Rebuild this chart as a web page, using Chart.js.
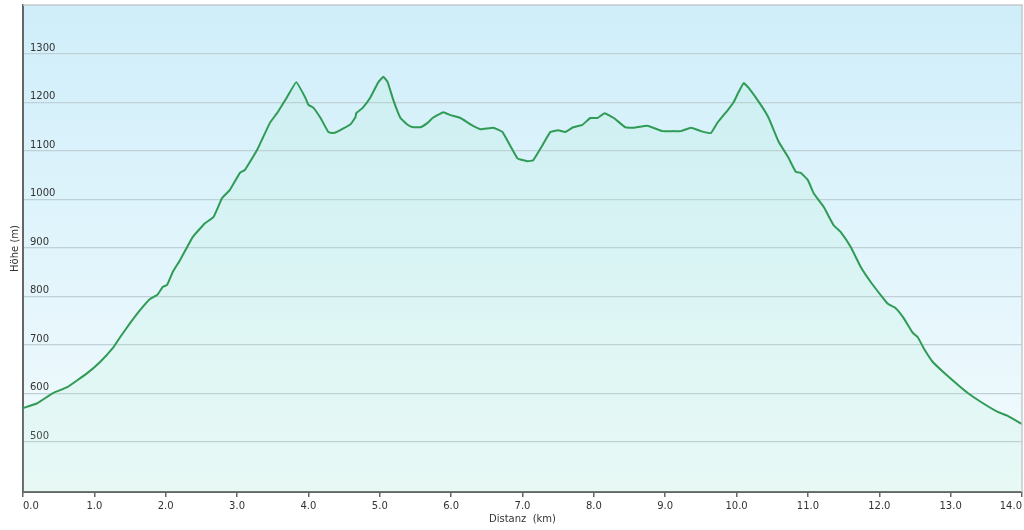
<!DOCTYPE html>
<html>
<head>
<meta charset="utf-8">
<script src="https://cdn.jsdelivr.net/npm/chart.js@4.4.1/dist/chart.umd.min.js"></script>
<style>
  html, body { margin: 0; padding: 0; background: #ffffff; }
  #wrap { width: 1024px; height: 530px; position: relative; }
</style>
</head>
<body>
<div id="wrap"><canvas id="c"></canvas></div>
<script>
const distanceKm = [0.00,0.20,0.42,0.62,0.90,1.08,1.26,1.36,1.50,1.64,1.78,1.88,1.96,2.02,2.10,2.20,2.38,2.55,2.67,2.79,2.90,3.04,3.11,3.28,3.46,3.56,3.70,3.83,3.96,4.00,4.07,4.17,4.28,4.35,4.42,4.59,4.66,4.67,4.76,4.87,4.98,5.05,5.11,5.19,5.29,5.39,5.47,5.57,5.67,5.74,5.89,5.99,6.13,6.27,6.41,6.59,6.72,6.93,7.07,7.15,7.28,7.39,7.50,7.60,7.71,7.84,7.95,8.05,8.15,8.28,8.44,8.56,8.75,8.96,9.12,9.22,9.36,9.50,9.64,9.73,9.88,9.96,10.03,10.10,10.17,10.34,10.45,10.59,10.72,10.83,10.90,11.00,11.08,11.22,11.36,11.46,11.60,11.74,11.88,12.02,12.12,12.23,12.34,12.47,12.54,12.62,12.75,12.90,13.10,13.24,13.42,13.66,13.80,14.00];
const elevationM = [570,580,601,613,642,665,694,716,745,772,795,803,820,824,851,875,923,951,964,1003,1020,1055,1061,1102,1158,1178,1211,1242,1209,1195,1189,1168,1139,1137,1141,1155,1170,1178,1189,1211,1242,1253,1242,1205,1168,1154,1149,1149,1158,1168,1180,1174,1168,1155,1145,1148,1139,1085,1079,1081,1112,1139,1143,1139,1149,1154,1168,1168,1178,1168,1149,1148,1152,1141,1141,1141,1148,1141,1137,1158,1185,1201,1222,1240,1230,1195,1168,1119,1088,1057,1055,1040,1013,985,947,933,902,861,830,803,785,776,756,725,716,694,665,644,618,601,583,562,554,537];
const xTickValues = [0,1,2,3,4,5,6,7,8,9,10,11,12,13,14];
const yTickValues = [500,600,700,800,900,1000,1100,1200,1300];
const xTitle = 'Distanz  (km)';
const yTitle = 'Höhe (m)';

const points = distanceKm.map((d, i) => ({ x: d, y: elevationM[i] }));

const bgPlugin = {
  id: 'bg',
  beforeDraw(chart) {
    const { ctx, chartArea: a } = chart;
    const g = ctx.createLinearGradient(0, a.top, 0, a.bottom);
    g.addColorStop(0, '#cfeefa');
    g.addColorStop(1, '#f3fbfd');
    ctx.save();
    ctx.fillStyle = g;
    ctx.fillRect(a.left, a.top, a.right - a.left, a.bottom - a.top);
    ctx.restore();
  },
  afterDraw(chart) {
    const { ctx, chartArea: a } = chart;
    ctx.save();
    ctx.strokeStyle = '#c4c9cc';
    ctx.lineWidth = 1.5;
    ctx.beginPath();
    ctx.moveTo(a.left, a.top);
    ctx.lineTo(a.right, a.top);
    ctx.lineTo(a.right, a.bottom);
    ctx.stroke();
    ctx.restore();
  }
};

new Chart(document.getElementById('c'), {
  type: 'line',
  data: {
    datasets: [{
      data: points,
      borderColor: '#2f9b55',
      borderWidth: 2,
      pointRadius: 0,
      tension: 0.1,
      fill: 'start',
      backgroundColor: 'rgba(160,238,190,0.13)'
    }]
  },
  options: {
    responsive: true,
    maintainAspectRatio: false,
    animation: false,
    layout: { padding: { top: 5, right: 2, left: 0, bottom: 0 } },
    plugins: { legend: { display: false }, tooltip: { enabled: false } },
    scales: {
      x: {
        type: 'linear',
        min: 0, max: 14,
        afterBuildTicks: (s) => { s.ticks = xTickValues.map(v => ({ value: v })); },
        afterFit: (s) => { s.height = 38; s.paddingLeft = 0; s.paddingRight = 0; },
        ticks: {
          align: 'inner',
          color: '#333',
          font: { family: 'DejaVu Sans', size: 10 },
          padding: 3,
          maxRotation: 0,
          autoSkip: false,
          callback: (v) => Number(v).toFixed(1)
        },
        grid: { drawOnChartArea: false, drawTicks: true, tickLength: 5, color: '#666', lineWidth: 1.5 },
        border: { display: true, color: '#666', width: 2 },
        title: { display: true, text: xTitle, color: '#333', font: { family: 'DejaVu Sans', size: 10 }, padding: { top: 0, bottom: 5 } }
      },
      y: {
        type: 'linear',
        min: 397, max: 1401,
        afterBuildTicks: (s) => { s.ticks = yTickValues.map(v => ({ value: v })); },
        afterFit: (s) => { s.width = 23; s.paddingTop = 0; s.paddingBottom = 0; },
        ticks: {
          mirror: true,
          padding: 7,
          labelOffset: -6,
          color: '#333',
          font: { family: 'DejaVu Sans', size: 10 },
          callback: (v) => String(v)
        },
        grid: { drawTicks: false, color: '#bfd0d6', lineWidth: 1.2 },
        border: { display: true, color: '#666', width: 2 },
        title: { display: true, text: yTitle, color: '#333', font: { family: 'DejaVu Sans', size: 10 }, padding: { top: 9, bottom: 0 } }
      }
    }
  },
  plugins: [bgPlugin]
});
</script>
</body>
</html>
